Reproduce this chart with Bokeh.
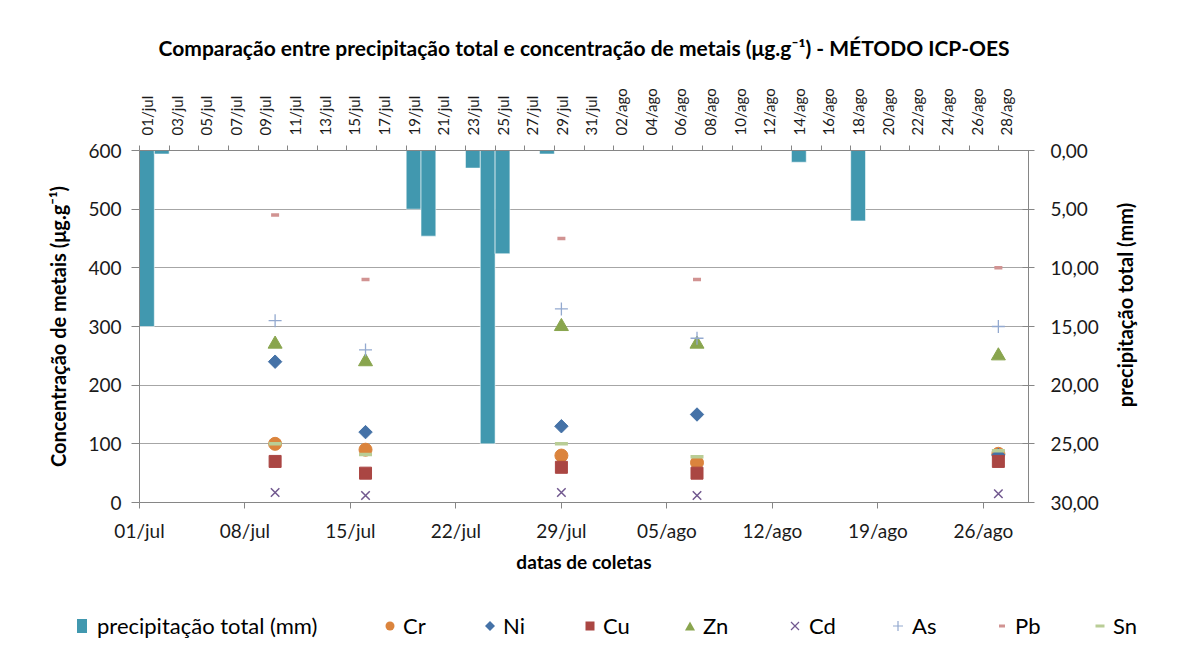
import math
from datetime import date
from bokeh.plotting import figure
from bokeh.layouts import column, row
from bokeh.models import Range1d, LinearAxis, FixedTicker, Div
from bokeh.embed import file_html
from bokeh.resources import INLINE

FONT = "Lato"
MONTHS = {"jul": 7, "ago": 8}


def day_of(lbl):
    d, m = lbl.split("/")
    return (date(2012, MONTHS[m], int(d)) - date(2012, 7, 1)).days


# ---- data -------------------------------------------------------------
precip_dates = ["01/jul", "02/jul", "19/jul", "20/jul", "23/jul",
                "24/jul", "25/jul", "28/jul", "14/ago", "18/ago"]
precip_mm = [15.0, 0.3, 5.0, 7.3, 1.5, 25.0, 8.8, 0.3, 1.0, 6.0]

sample_dates = ["10/jul", "16/jul", "29/jul", "07/ago", "27/ago"]
cr = [100, 90, 80, 68, 83]
ni = [240, 120, 130, 150, 81]
cu = [70, 50, 60, 50, 70]
zn = [270, 240, 300, 270, 250]
cd = [17, 12, 17, 12, 15]
as_ = [310, 260, 330, 280, 300]
pb = [490, 380, 450, 380, 400]
sn = [100, 82, 100, 78, 88]

bottom_labels = ["01/jul", "08/jul", "15/jul", "22/jul", "29/jul",
                 "05/ago", "12/ago", "19/ago", "26/ago"]
top_labels = ["01/jul", "03/jul", "05/jul", "07/jul", "09/jul", "11/jul",
              "13/jul", "15/jul", "17/jul", "19/jul", "21/jul", "23/jul",
              "25/jul", "27/jul", "29/jul", "31/jul", "02/ago", "04/ago",
              "06/ago", "08/ago", "10/ago", "12/ago", "14/ago", "16/ago",
              "18/ago", "20/ago", "22/ago", "24/ago", "26/ago", "28/ago"]
left_ticks = [0, 100, 200, 300, 400, 500, 600]
right_ticks = [0, 5, 10, 15, 20, 25, 30]
right_labels = ["0,00", "5,00", "10,00", "15,00", "20,00", "25,00", "30,00"]

AX = "#868686"
TXT = "#1a1a1a"
C_PRE, C_CR, C_NI, C_CU = "#4198AF", "#DB843D", "#4572A7", "#AA4643"
C_ZN, C_CD, C_AS, C_PB, C_SN = "#89A54E", "#71588F", "#93A9CF", "#D19392", "#B9CD96"

# ---- main figure ------------------------------------------------------
p = figure(frame_width=889, frame_height=352,
           min_border_left=139, min_border_right=80,
           min_border_top=150, min_border_bottom=100,
           x_range=Range1d(0, 59), y_range=Range1d(0, 600),
           output_backend="svg", toolbar_location=None,
           background_fill_color="white", border_fill_color="white")
p.extra_x_ranges = {"top": Range1d(0, 60)}
p.extra_y_ranges = {"right": Range1d(30, 0)}
p.outline_line_color = None

p.title.text = "Comparação entre precipitação total e concentração de metais (μg.g⁻¹) - MÉTODO ICP-OES"
p.title.align = "center"
p.title.text_font = FONT
p.title.text_font_size = "21px"
p.title.text_font_style = "bold"
p.title.text_color = "black"
p.title.standoff = 51

p.xgrid.visible = False
p.ygrid.grid_line_color = "#a6a6a6"
p.ygrid.grid_line_width = 1
p.ygrid.ticker = FixedTicker(ticks=left_ticks)

# left axis
ya = p.yaxis[0]
ya.ticker = FixedTicker(ticks=left_ticks)
ya.axis_label = "Concentração de metais (μg.g⁻¹)"
ya.axis_label_text_font = FONT
ya.axis_label_text_font_size = "20px"
ya.axis_label_text_font_style = "bold"
ya.axis_label_text_color = "black"
ya.axis_label_standoff = 15
ya.major_label_text_font = FONT
ya.major_label_text_font_size = "19px"
ya.major_label_text_color = TXT
ya.major_label_standoff = 10
ya.major_tick_out = 8
ya.major_tick_in = 0
ya.minor_tick_out = 0
ya.minor_tick_in = 0
ya.axis_line_color = AX
ya.major_tick_line_color = AX

# bottom axis
xa = p.xaxis[0]
xa.ticker = FixedTicker(ticks=[day_of(s) for s in bottom_labels])
xa.major_label_overrides = {day_of(s): s for s in bottom_labels}
xa.axis_label = "datas de coletas"
xa.axis_label_text_font = FONT
xa.axis_label_text_font_size = "19px"
xa.axis_label_text_font_style = "bold"
xa.axis_label_text_color = "black"
xa.axis_label_standoff = 5
xa.major_label_text_font = FONT
xa.major_label_text_font_size = "19px"
xa.major_label_text_color = TXT
xa.major_label_standoff = 10
xa.major_tick_out = 6
xa.major_tick_in = 0
xa.minor_tick_out = 0
xa.minor_tick_in = 0
xa.axis_line_color = AX
xa.major_tick_line_color = AX

# top axis (precipitation dates)
top_days = [day_of(s) for s in top_labels]
ta = LinearAxis(x_range_name="top",
                ticker=FixedTicker(ticks=[d + 0.5 for d in top_days],
                                   minor_ticks=top_days))
ta.major_label_overrides = {d + 0.5: s for d, s in zip(top_days, top_labels)}
ta.major_label_orientation = math.pi / 2
ta.major_label_text_font = FONT
ta.major_label_text_font_size = "15px"
ta.major_label_text_color = TXT
ta.major_label_standoff = 10
ta.major_tick_out = 0
ta.major_tick_in = 0
ta.minor_tick_out = 5
ta.minor_tick_in = 0
ta.minor_tick_line_color = AX
ta.axis_line_color = AX
p.add_layout(ta, "above")

# right axis (precipitation mm, reversed)
ra = LinearAxis(y_range_name="right", ticker=FixedTicker(ticks=right_ticks))
ra.major_label_overrides = {t: s for t, s in zip(right_ticks, right_labels)}
ra.major_label_text_font = FONT
ra.major_label_text_font_size = "19px"
ra.major_label_text_color = TXT
ra.major_label_standoff = 16
ra.major_tick_out = 6
ra.major_tick_in = 6
ra.minor_tick_out = 0
ra.minor_tick_in = 0
ra.axis_line_color = AX
ra.major_tick_line_color = AX
p.add_layout(ra, "right")

# ---- glyphs -----------------------------------------------------------
px = [day_of(s) + 0.5 for s in precip_dates]
p.vbar(x=px, width=1, top=[0] * len(px), bottom=precip_mm,
       x_range_name="top", y_range_name="right",
       fill_color=C_PRE, line_color="white", line_width=0.8, line_alpha=0.7)

sx = [day_of(s) for s in sample_dates]
p.scatter(sx, cr, marker="circle", size=13, fill_color=C_CR, line_color=C_CR)
p.scatter(sx, ni, marker="square", angle=math.pi / 4, size=9.5,
          fill_color=C_NI, line_color=C_NI)
p.scatter(sx, cu, marker="square", size=12, fill_color=C_CU, line_color=C_CU)
p.scatter(sx, zn, marker="triangle", size=14, fill_color=C_ZN, line_color=C_ZN)
p.scatter(sx, cd, marker="x", size=12, line_color=C_CD, line_width=1.5)
p.scatter(sx, as_, marker="cross", size=13, line_color=C_AS, line_width=1.3)
p.scatter(sx, pb, marker="dash", size=8, line_color=C_PB, line_width=3.5)
p.scatter(sx, sn, marker="dash", size=13, line_color=C_SN, line_width=3.5)

# ---- right-hand axis title (reads bottom to top) ----------------------
right_title = "precipitação total (mm)"
rdiv = Div(width=70, height=602, margin=(0, 0, 0, 0), text=(
    '<div style="position:relative;width:70px;height:602px;">'
    '<span style="position:absolute;left:17px;top:305px;'
    'transform:translate(-50%,-50%) rotate(-90deg);white-space:nowrap;'
    f'font-family:{FONT};font-size:20px;font-weight:bold;color:black;'
    f'line-height:24px;">{right_title}</span></div>'))

# ---- legend strip -----------------------------------------------------
SVG_SHAPES = {
    "bar": '<rect x="2" y="0" width="10" height="14" fill="{c}"/>',
    "circle": '<circle cx="7" cy="7" r="4.5" fill="{c}"/>',
    "diamond": '<polygon points="7,2 12,7 7,12 2,7" fill="{c}"/>',
    "square": '<rect x="2.5" y="2.5" width="9" height="9" fill="{c}"/>',
    "triangle": '<polygon points="7,2.5 12,11.5 2,11.5" fill="{c}"/>',
    "x": '<path d="M3 3L11 11M11 3L3 11" stroke="{c}" stroke-width="1.2"/>',
    "cross": '<path d="M7 2V12M2 7H12" stroke="{c}" stroke-width="1.2"/>',
    "dash_s": '<rect x="4" y="5.5" width="6" height="3" fill="{c}"/>',
    "dash_l": '<rect x="2.5" y="5.5" width="9" height="3" fill="{c}"/>',
}
legend_series = [("precipitação total (mm)", C_PRE, "bar"),
                 ("Cr", C_CR, "circle"), ("Ni", C_NI, "diamond"),
                 ("Cu", C_CU, "square"), ("Zn", C_ZN, "triangle"),
                 ("Cd", C_CD, "x"), ("As", C_AS, "cross"),
                 ("Pb", C_PB, "dash_s"), ("Sn", C_SN, "dash_l")]
legend_px = [82, 390, 490, 590, 690, 795, 898, 1002, 1100]   # layout (px)
text_gap = [15, 13, 13, 13, 13, 14, 14, 13, 13]

parts = ['<div style="position:relative;width:1178px;height:60px;">']
for (lab, col, shp), gx, gap in zip(legend_series, legend_px, text_gap):
    parts.append(
        f'<svg width="14" height="14" style="position:absolute;left:{gx - 7}px;top:17px;">'
        + SVG_SHAPES[shp].format(c=col) + '</svg>')
    parts.append(
        f'<span style="position:absolute;left:{gx + gap}px;top:11px;'
        f'font-family:{FONT};font-size:22px;line-height:26px;color:black;'
        f'white-space:nowrap;">{lab}</span>')
parts.append('</div>')
ldiv = Div(width=1178, height=60, margin=(0, 0, 0, 0), text="".join(parts))

layout = column(row(p, rdiv, spacing=0), ldiv, spacing=0)
open("out.html", "w").write(file_html(layout, INLINE))
